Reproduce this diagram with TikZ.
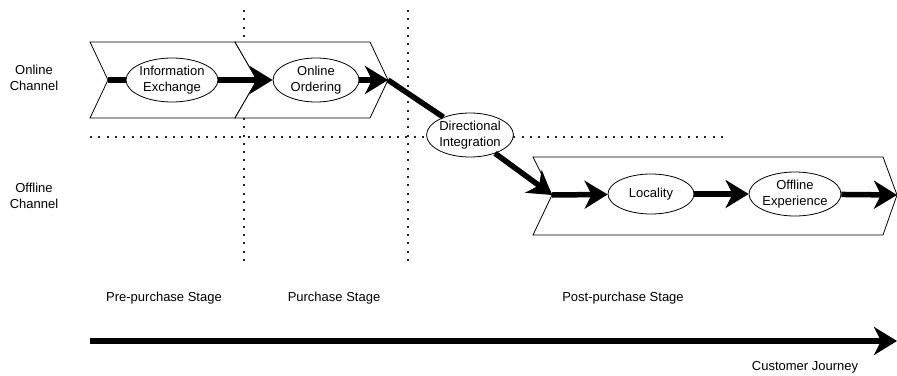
\documentclass[tikz,border=0pt]{standalone}
\usepackage{fontspec}
\setmainfont{Liberation Sans}
\usetikzlibrary{arrows.meta,shapes.geometric}
\tikzset{
  chev/.style={draw=black, line width=0.8pt, fill=white, line join=miter},
  stagebox/.style={ellipse, draw=black, line width=0.8pt, fill=white, inner sep=0pt,
    minimum width=86pt, minimum height=44pt, align=center},
  conn/.style={line width=5.5pt, draw=black},
  bigtip/.style={-{Stealth[length=23pt,width=28pt,inset=7pt]}},
  grid/.style={line width=2pt, dash pattern=on 2pt off 6.3pt, draw=black!85},
  lbl/.style={align=center, inner sep=0pt},
}
\begin{document}
\begin{tikzpicture}[x=1pt,y=-1pt,font=\fontsize{13}{15.5}\selectfont]
\useasboundingbox (0,0) rectangle (897,375);

% stage and channel separators
\draw[grid] (244,10) -- (244,266);
\draw[grid] (408,10) -- (408,266);
\draw[grid] (90,137) -- (726,137);

% online chevrons
\draw[chev] (90,42) -- (235,42) -- (257,80) -- (235,118) -- (90,118) -- (108,80) -- cycle;
\draw[chev] (235,42) -- (370,42) -- (388,80) -- (370,118) -- (235,118) -- (257,80) -- cycle;
% offline chevron
\draw[chev] (533,157) -- (883,157) -- (897,195) -- (883,235) -- (533,235) -- (552,195) -- cycle;

\coordinate (n1) at (108,80);
\coordinate (t2) at (388,80);
\coordinate (n3) at (552,195);
\coordinate (t3) at (897,195);

% process steps
\node[stagebox] (info) at (172,80) {Information\\Exchange};
\node[stagebox] (order) at (316,80) {Online\\Ordering};
\node[stagebox] (dir) at (470,135) {Directional\\Integration};
\node[stagebox, minimum height=40pt] (loc) at (651,194) {Locality};
\node[stagebox] (exp) at (795,194) {Offline\\Experience};

% flow
\draw[conn] (n1) -- (info);
\draw[conn,bigtip] (info) -- (order);
\draw[conn,bigtip] (order) -- (t2);
\draw[conn] (t2) -- (dir);
\draw[conn,bigtip] (dir) -- (n3);
\draw[conn,bigtip] (n3) -- (loc);
\draw[conn,bigtip] (loc) -- (exp);
\draw[conn,bigtip] (exp) -- (t3);

% channel labels
\node[lbl] (onl) at (34,78) {Online\\Channel};
\node[lbl] (offl) at (34,196) {Offline\\Channel};

% stage labels
\node[lbl] (pre) at (164,298) {Pre-purchase Stage};
\node[lbl] (pur) at (334,298) {Purchase Stage};
\node[lbl] (post) at (623,298) {Post-purchase Stage};

% journey axis
\coordinate (js) at (90,341);
\coordinate (je) at (897,341);
\draw[conn,bigtip] (js) -- (je);
\node[lbl] (cj) at (805,367) {Customer Journey};
\end{tikzpicture}
\end{document}
